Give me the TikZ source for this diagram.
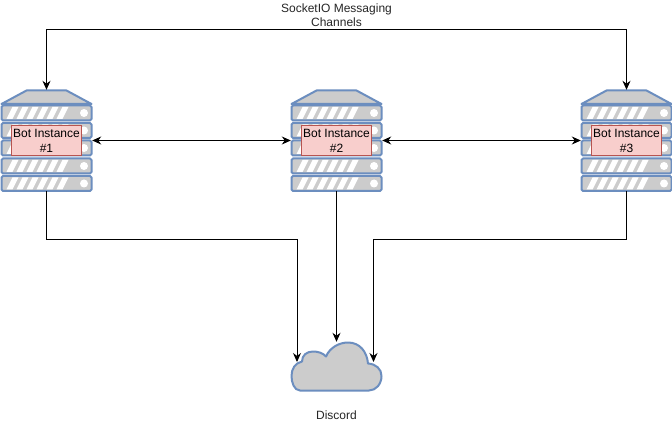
\documentclass[tikz,border=0pt]{standalone}
\usepackage{fontspec}
\setmainfont{Liberation Sans}
\usetikzlibrary{arrows.meta}
\definecolor{srvfill}{HTML}{CCCCCC}
\definecolor{srvline}{HTML}{6C8EBF}
\definecolor{lblfill}{HTML}{F8CECC}
\definecolor{lblline}{HTML}{B85450}
\tikzset{
  srvpart/.style={fill=srvfill,draw=srvline,line width=2pt,line join=round},
  stripe/.style={fill=white,draw=none},
  lbl/.style={draw=lblline,fill=lblfill,line width=1pt,minimum width=70pt,minimum height=30pt,inner sep=0pt,align=center,font=\fontsize{12}{15}\selectfont},
  txt/.style={align=center,inner sep=0pt,font=\fontsize{12}{14}\selectfont,text=black!85},
  hit/.style={inner sep=0pt,minimum width=91pt,minimum height=101pt},
  conn/.style={draw=black,line width=1pt,>={Stealth[length=9pt,width=8pt]}}
}
\newcommand{\slab}[2]{% centre x, top y
  \begin{scope}[shift={(#1,#2)}]
    \draw[srvpart,rounded corners=1.5pt] (-45,0) rectangle (45,15);
    \foreach \k in {0,...,5}{
      \fill[stripe] (-40+\k*10,13.5) -- (-34+\k*10,1.5) -- (-28+\k*10,1.5) -- (-34+\k*10,13.5) -- cycle;
    }
    \fill[white] (37.5,7.5) circle (4);
  \end{scope}
}
\newcommand{\server}[4]{% name, centre x, label name, text
  \draw[srvpart] (#2-45,104) -- (#2-20,90.5) -- (#2+20,90.5) -- (#2+45,104) -- cycle;
  \foreach \yy in {105.5,123,140.5,158.5,176}{\slab{#2}{\yy}}
  \node[hit] (#1) at (#2,140.5) {};
  \node[lbl] (#3) at (#2,140.5) {#4};
}
\begin{document}
\begin{tikzpicture}[x=1pt,y=-1pt]
\path[use as bounding box,fill=white] (0,0) rectangle (672,430);

\server{s1}{46.5}{b1}{Bot Instance\\\#1}
\server{s2}{336.5}{b2}{Bot Instance\\\#2}
\server{s3}{626.5}{b3}{Bot Instance\\\#3}

% cloud
\node[inner sep=0pt,minimum width=91pt,minimum height=49pt] (cloud) at (336.5,366.5) {};
\draw[srvpart]
  (300,390.5)
  .. controls (294,390.5) and (291.5,382) .. (291.5,376)
  .. controls (291.5,369) and (295,363) .. (302,361.5)
  .. controls (302,355) and (307,351.5) .. (313,351.5)
  .. controls (318,351.5) and (323,353) .. (326,356.5)
  .. controls (330,347) and (340,342.5) .. (348,342.5)
  .. controls (360,342.5) and (367,352) .. (368,363.5)
  .. controls (376,364) and (381.5,369) .. (381.5,376)
  .. controls (381.5,384) and (376,390.5) .. (369,390.5)
  -- cycle;

\coordinate (topl) at (46.5,30);
\coordinate (topr) at (626.5,30);
\coordinate (c1) at (297,362);
\coordinate (c3) at (373.5,362);
\coordinate (b1turn) at (46.5,240);
\coordinate (b3turn) at (626.5,240);
\coordinate (c1turn) at (297,240);
\coordinate (c3turn) at (373.5,240);

\draw[conn,<->] (s1.north) -- (topl) -- (topr) -- (s3.north);
\draw[conn,<->] (b1.east -| s1.east) -- (b2.west -| s2.west);
\draw[conn,<->] (b2.east -| s2.east) -- (b3.west -| s3.west);
\draw[conn,->] (s1.south) -- (b1turn) -- (c1turn) -- (c1);
\draw[conn,->] (s2.south) -- (cloud.north);
\draw[conn,->] (s3.south) -- (b3turn) -- (c3turn) -- (c3);

\node[txt] (t1) at (336.5,15) {SocketIO Messaging\\Channels};
\node[txt] (t2) at (336.5,415) {Discord};
\end{tikzpicture}
\end{document}
